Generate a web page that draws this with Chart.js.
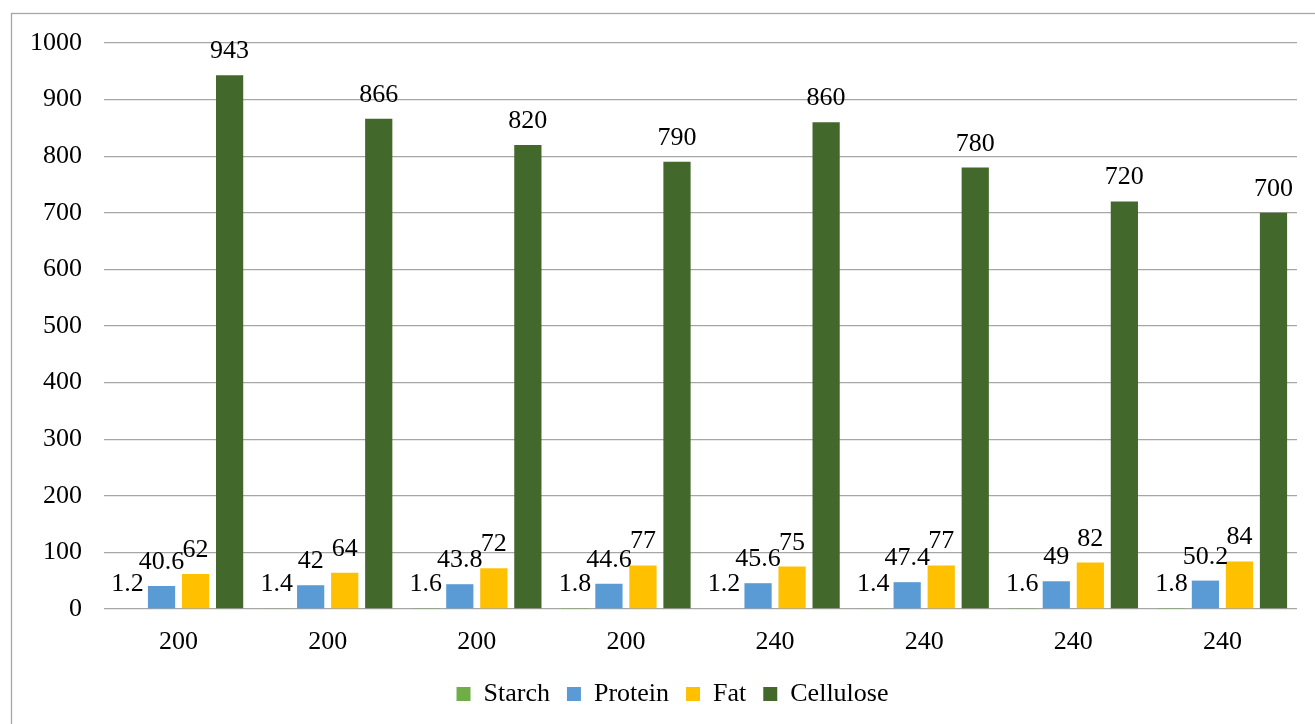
<!DOCTYPE html>
<html>
<head>
<meta charset="utf-8">
<script src="https://cdn.jsdelivr.net/npm/chart.js@4/dist/chart.umd.min.js"></script>
<style>
html,body{margin:0;padding:0;background:#fff;}
#wrap{position:absolute;left:0;top:0;width:1315px;height:724px;}
</style>
</head>
<body>
<div id="wrap"><canvas id="c" width="1315" height="724"></canvas></div>
<script>
const categories = ["200","200","200","200","240","240","240","240"];
const starch = [1.2,1.4,1.6,1.8,1.2,1.4,1.6,1.8];
const protein = [40.6,42,43.8,44.6,45.6,47.4,49,50.2];
const fat = [62,64,72,77,75,77,82,84];
const cellulose = [943,866,820,790,860,780,720,700];
const yTicks = [0,100,200,300,400,500,600,700,800,900,1000];

const FONT = "'Liberation Serif','Times New Roman',serif";

const borderPlugin = {
  id:'border',
  beforeDraw(chart){
    const ctx = chart.ctx;
    ctx.save();
    ctx.fillStyle='#fff';
    ctx.fillRect(0,0,chart.width,chart.height);
    ctx.strokeStyle='#a6a6a6';
    ctx.lineWidth=1.3;
    ctx.strokeRect(11.5,13.5,chart.width+20,chart.height+20);
    ctx.restore();
  },
  afterLayout(chart){
    const lg = chart.legend;
    if (lg){ lg.left += 24; lg.right += 24; }
  }
};

const labelPlugin = {
  id:'vlabels',
  afterDatasetsDraw(chart){
    const ctx = chart.ctx;
    ctx.save();
    ctx.font = "26px " + FONT;
    ctx.fillStyle = '#000';
    ctx.textAlign = 'center';
    ctx.textBaseline = 'alphabetic';
    chart.data.datasets.forEach((ds,i)=>{
      const meta = chart.getDatasetMeta(i);
      meta.data.forEach((el,j)=>{
        ctx.fillText(String(ds.data[j]), el.x, el.y - 17);
      });
    });
    ctx.restore();
  }
};

const mk = (label,data,color)=>({label,data,backgroundColor:color,borderWidth:0,categoryPercentage:0.913,barPercentage:0.8});

new Chart(document.getElementById('c'),{
  type:'bar',
  data:{
    labels:categories,
    datasets:[
      mk('Starch',starch,'#70AD47'),
      mk('Protein',protein,'#5B9BD5'),
      mk('Fat',fat,'#FFC000'),
      mk('Cellulose',cellulose,'#43682B')
    ]
  },
  options:{
    responsive:false,
    animation:false,
    devicePixelRatio:1,
    layout:{padding:{left:0,right:18,top:43,bottom:7}},
    plugins:{
      legend:{
        position:'bottom',
        labels:{font:{family:FONT,size:26},color:'#000',boxWidth:14,boxHeight:14,padding:17}
      },
      tooltip:{enabled:false}
    },
    scales:{
      x:{
        grid:{display:false,drawTicks:false},
        border:{display:false},
        ticks:{font:{family:FONT,size:26},color:'#000',padding:18},
        afterFit(s){s.height=55;}
      },
      y:{
        min:0,max:1000,
        afterBuildTicks(s){s.ticks = yTicks.map(v=>({value:v}));},
        grid:{color:'#a6a6a6',lineWidth:1.3,drawTicks:false},
        border:{display:false},
        ticks:{font:{family:FONT,size:26},color:'#000',padding:22,callback:(v)=>String(v)},
        afterFit(s){s.width=104;}
      }
    }
  },
  plugins:[borderPlugin,labelPlugin]
});
</script>
</body>
</html>
